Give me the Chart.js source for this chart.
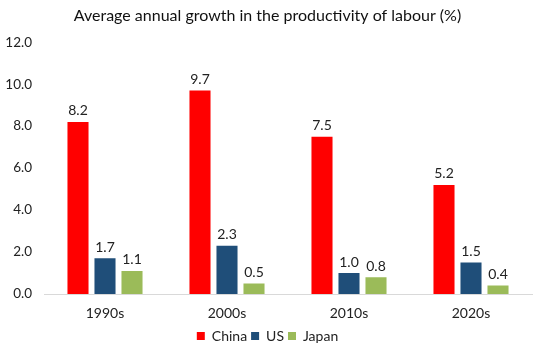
<!DOCTYPE html>
<html lang="en">
<head>
  <meta charset="UTF-8">
  <title>Average annual growth in the productivity of labour</title>
  <script src="https://cdn.jsdelivr.net/npm/chart.js"></script>
  <style>
    html, body { margin: 0; padding: 0; background: #fff; }
    #wrap { width: 540px; height: 353px; }
  </style>
</head>
<body>
  <div id="wrap"><canvas id="chart"></canvas></div>
  <script>
    const decades = ['1990s', '2000s', '2010s', '2020s'];
    const china = [8.2, 9.7, 7.5, 5.2];
    const us = [1.7, 2.3, 1.0, 1.5];
    const japan = [1.1, 0.5, 0.8, 0.4];

    const FONT = "Lato, 'Open Sans', sans-serif";

    // draws the value above each bar
    const barLabels = {
      id: 'barLabels',
      afterDatasetsDraw(chart) {
        const ctx = chart.ctx;
        ctx.save();
        ctx.font = "14px " + FONT;
        ctx.fillStyle = '#222';
        ctx.textAlign = 'center';
        ctx.textBaseline = 'bottom';
        chart.data.datasets.forEach((ds, i) => {
          chart.getDatasetMeta(i).data.forEach((bar, j) => {
            ctx.fillText(ds.data[j].toFixed(1), bar.x, bar.y - 4);
          });
        });
        ctx.restore();
      }
    };

    new Chart(document.getElementById('chart'), {
      type: 'bar',
      data: {
        labels: decades,
        datasets: [
          { label: 'China', data: china, backgroundColor: '#ff0000' },
          { label: 'US', data: us, backgroundColor: '#1f4e79' },
          { label: 'Japan', data: japan, backgroundColor: '#9bbb59' }
        ]
      },
      options: {
        responsive: true,
        maintainAspectRatio: false,
        animation: false,
        categoryPercentage: 0.664,
        barPercentage: 0.78,
        layout: { padding: { left: 3, right: 8, top: 0, bottom: 0 } },
        plugins: {
          title: {
            display: true,
            text: 'Average annual growth in the productivity of labour (%)',
            color: '#111',
            font: { family: FONT, size: 16, weight: 'normal' },
            padding: { top: 6, bottom: 17 }
          },
          legend: {
            position: 'bottom',
            labels: {
              color: '#222',
              font: { family: FONT, size: 14 },
              boxWidth: 8,
              boxHeight: 8,
              padding: 4
            }
          },
          tooltip: { enabled: false }
        },
        scales: {
          x: {
            grid: { display: false },
            border: { color: '#d9d9d9' },
            ticks: { color: '#222', font: { family: FONT, size: 14, lineHeight: 1.5 }, padding: 1 }
          },
          y: {
            min: 0,
            max: 12,
            grid: { display: false, drawTicks: false },
            border: { display: false },
            afterFit: scale => { scale.width = 41; },
            ticks: {
              stepSize: 2,
              color: '#222',
              font: { family: FONT, size: 13.5 },
              padding: 12,
              callback: v => v.toFixed(1)
            }
          }
        }
      },
      plugins: [barLabels]
    });
  </script>
</body>
</html>
